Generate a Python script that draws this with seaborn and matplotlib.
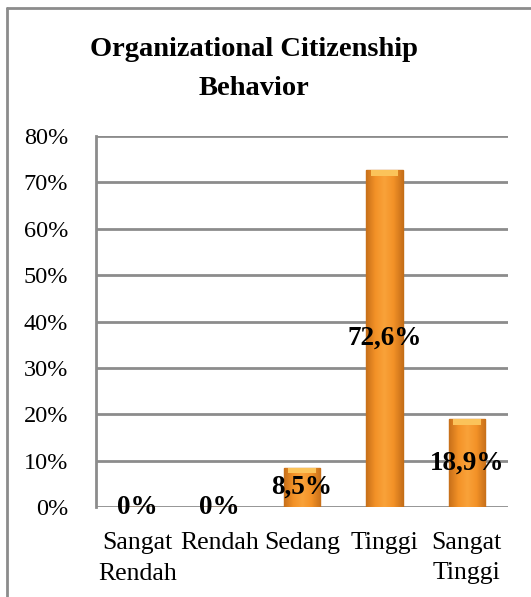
import matplotlib
matplotlib.use("Agg")
import matplotlib.pyplot as plt
import seaborn as sns
import pandas as pd
import numpy as np
from matplotlib.lines import Line2D
from matplotlib.colors import LinearSegmentedColormap

categories = ["Sangat\nRendah", "Rendah", "Sedang", "Tinggi", "Sangat\nTinggi"]
values = [0.0, 0.0, 8.5, 72.6, 18.9]
labels = ["0%", "0%", "8,5%", "72,6%", "18,9%"]
yticks = [0, 10, 20, 30, 40, 50, 60, 70, 80]
title = "Organizational Citizenship\nBehavior"

df = pd.DataFrame({"cat": categories, "val": values})

sns.set_theme(style="white")
plt.rcParams["font.family"] = ["Liberation Serif", "DejaVu Serif"]
plt.rcParams["text.color"] = "black"
plt.rcParams["xtick.color"] = "black"
plt.rcParams["ytick.color"] = "black"

fig = plt.figure(figsize=(5.31, 5.97), dpi=100)
ax = fig.add_axes([96 / 531, 1 - 507 / 597, 412 / 531, 371 / 597])

sns.barplot(data=df, x="cat", y="val", ax=ax, color="#F7941E", width=0.44,
            edgecolor="#C46E15", linewidth=1.0, saturation=1)

# horizontal gradient shading on each bar
cmap = LinearSegmentedColormap.from_list(
    "bar", ["#C8701A", "#F39227", "#F9A23A", "#F39227", "#C8701A"])
grad = np.linspace(0, 1, 64).reshape(1, -1)
for p in ax.patches:
    h = p.get_height()
    if h <= 0:
        continue
    x0 = p.get_x()
    w = p.get_width()
    im = ax.imshow(grad, cmap=cmap, aspect="auto", extent=[x0, x0 + w, 0, h],
                   zorder=p.get_zorder() + 0.1, interpolation="bicubic")
    im.set_clip_path(p)
    cap = min(1.2, h * 0.15)
    ax.fill_between([x0 + w * 0.12, x0 + w * 0.88], h - cap, h,
                    color="#FBC35A", zorder=p.get_zorder() + 0.2, linewidth=0)

ax.set_xlim(-0.5, 4.5)
ax.set_ylim(0, 80)
ax.set_yticks(yticks)
ax.set_yticklabels([f"{t}%" for t in yticks], fontsize=17.5)
for t in ax.get_xticklabels():
    t.set_fontsize(18.5)
    t.set_linespacing(1.5)
ax.tick_params(axis="x", length=0, pad=18)
ax.tick_params(axis="y", length=0, pad=20)
ax.set_xlabel("")
ax.set_ylabel("")
ax.yaxis.grid(True, color="#8C8C8C", linewidth=2)
ax.set_axisbelow(True)
for s in ["top", "right", "bottom"]:
    ax.spines[s].set_visible(False)
ax.spines["left"].set_color("#8C8C8C")
ax.spines["left"].set_linewidth(2)

for i, (v, lab) in enumerate(zip(values, labels)):
    ax.text(i, v / 2, lab, ha="center", va="center", fontsize=19.5,
            fontweight="bold", color="black", zorder=10)

fig.text(0.478, 1 - 69 / 597, title, ha="center", va="center", fontsize=20.5,
         fontweight="bold", linespacing=1.7)

# outer frame (left and top edges visible)
fig.add_artist(Line2D([7 / 531, 7 / 531], [0, 1 - 8 / 597], transform=fig.transFigure,
                      color="#8C8C8C", linewidth=2))
fig.add_artist(Line2D([7 / 531, 1], [1 - 8 / 597, 1 - 8 / 597], transform=fig.transFigure,
                      color="#8C8C8C", linewidth=2))

fig.savefig("out.png", dpi=100, facecolor="white")
